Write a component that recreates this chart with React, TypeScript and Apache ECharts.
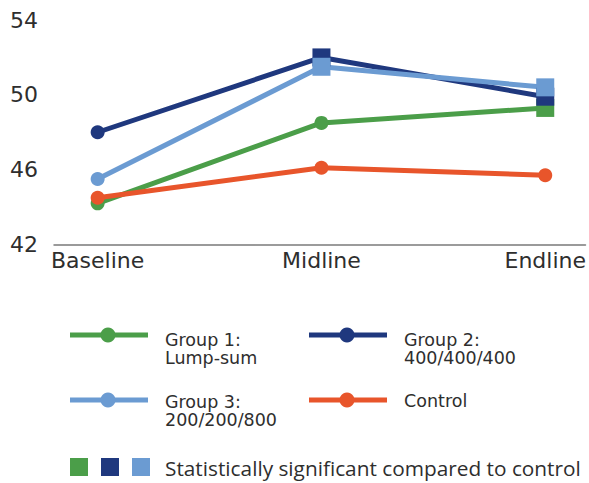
import React, { useEffect, useRef } from "react";
import * as echarts from "echarts";

// Survey rounds along the x axis
const rounds = ["Baseline", "Midline", "Endline"];

// Mean scores per group at each round
const group1 = [44.2, 48.5, 49.3];
const group2 = [48.0, 52.0, 49.9];
const group3 = [45.5, 51.5, 50.4];
const control = [44.5, 46.1, 45.7];

// Whether each round differs significantly from the control group
const group1Sig = [false, false, true];
const group2Sig = [false, true, true];
const group3Sig = [false, true, true];
const controlSig = [false, false, false];

// Y axis range
const yTicks = [42, 46, 50, 54];

const GREEN = "#4b9e49";
const NAVY = "#1f387e";
const LIGHT = "#6b9bd2";
const ORANGE = "#e8552b";

const AXIS_FONT = "DejaVu Sans";
const TEXT_COLOR = "#2e2e2e";

function buildSeries(name: string, values: number[], sig: boolean[], color: string) {
  return {
    name,
    type: "line",
    data: values.map((v, i) => ({
      value: [i, v],
      symbol: sig[i] ? "rect" : "circle",
      symbolSize: sig[i] ? 18 : 14,
    })),
    lineStyle: { color, width: 5 },
    itemStyle: { color },
    showSymbol: true,
    z: 2,
  };
}

function legendText(x: number, y: number, text: string) {
  return {
    type: "text",
    x,
    y,
    style: {
      text,
      font: `17.5px "${AXIS_FONT}"`,
      fill: TEXT_COLOR,
      verticalAlign: "middle",
      align: "left",
    },
  };
}

function legendEntry(x: number, y: number, color: string, lines: string[], textY: number) {
  return [
    {
      type: "line",
      shape: { x1: x, y1: y, x2: x + 78, y2: y },
      style: { stroke: color, lineWidth: 5 },
    },
    {
      type: "circle",
      shape: { cx: x + 38, cy: y, r: 7.5 },
      style: { fill: color },
    },
    ...lines.map((t, i) => legendText(x + 95, textY + i * 18.5, t)),
  ];
}

export default function App() {
  const ref = useRef<HTMLDivElement>(null);

  useEffect(() => {
    if (!ref.current) return;
    const chart = echarts.init(ref.current, undefined, { renderer: "svg" });

    const option = {
      animation: false,
      backgroundColor: "#ffffff",
      grid: { left: 54, right: 2, top: 20, bottom: 238.5 },
      xAxis: {
        type: "value",
        min: -0.195,
        max: 2.18,
        splitLine: { show: false },
        axisTick: { show: false },
        axisLine: { show: true, lineStyle: { color: "#7a7a7a", width: 1.5 } },
        axisLabel: {
          customValues: [0, 1, 2],
          formatter: (v: number) => rounds[Math.round(v)] ?? "",
          fontFamily: AXIS_FONT,
          fontSize: 22,
          color: TEXT_COLOR,
          margin: 5,
          align: "center",
        },
      },
      yAxis: {
        type: "value",
        min: yTicks[0],
        max: yTicks[yTicks.length - 1],
        interval: 4,
        splitLine: { show: false },
        axisLine: { show: false },
        axisTick: { show: false },
        axisLabel: {
          fontFamily: AXIS_FONT,
          fontSize: 22,
          color: TEXT_COLOR,
          margin: 16,
        },
      },
      series: [
        buildSeries("Group 1: Lump-sum", group1, group1Sig, GREEN),
        buildSeries("Control", control, controlSig, ORANGE),
        buildSeries("Group 2: 400/400/400", group2, group2Sig, NAVY),
        buildSeries("Group 3: 200/200/800", group3, group3Sig, LIGHT),
      ],
      graphic: [
        ...legendEntry(70, 335, GREEN, ["Group 1:", "Lump-sum"], 339.5),
        ...legendEntry(309, 335, NAVY, ["Group 2:", "400/400/400"], 339.5),
        ...legendEntry(70, 400, LIGHT, ["Group 3:", "200/200/800"], 401.5),
        ...legendEntry(309, 400, ORANGE, ["Control"], 401),
        { type: "rect", shape: { x: 70, y: 458, width: 18, height: 18 }, style: { fill: GREEN } },
        { type: "rect", shape: { x: 101, y: 458, width: 18, height: 18 }, style: { fill: NAVY } },
        { type: "rect", shape: { x: 132, y: 458, width: 18, height: 18 }, style: { fill: LIGHT } },
        {
          type: "text",
          x: 165,
          y: 468,
          style: {
            text: "Statistically significant compared to control",
            font: '20.8px "Open Sans"',
            fill: TEXT_COLOR,
            verticalAlign: "middle",
            align: "left",
          },
        },
      ],
    };

    chart.setOption(option as any);
    return () => chart.dispose();
  }, []);

  return (
    <div
      ref={ref}
      style={{ position: "fixed", left: 0, top: 0, width: 589, height: 483 }}
    />
  );
}
